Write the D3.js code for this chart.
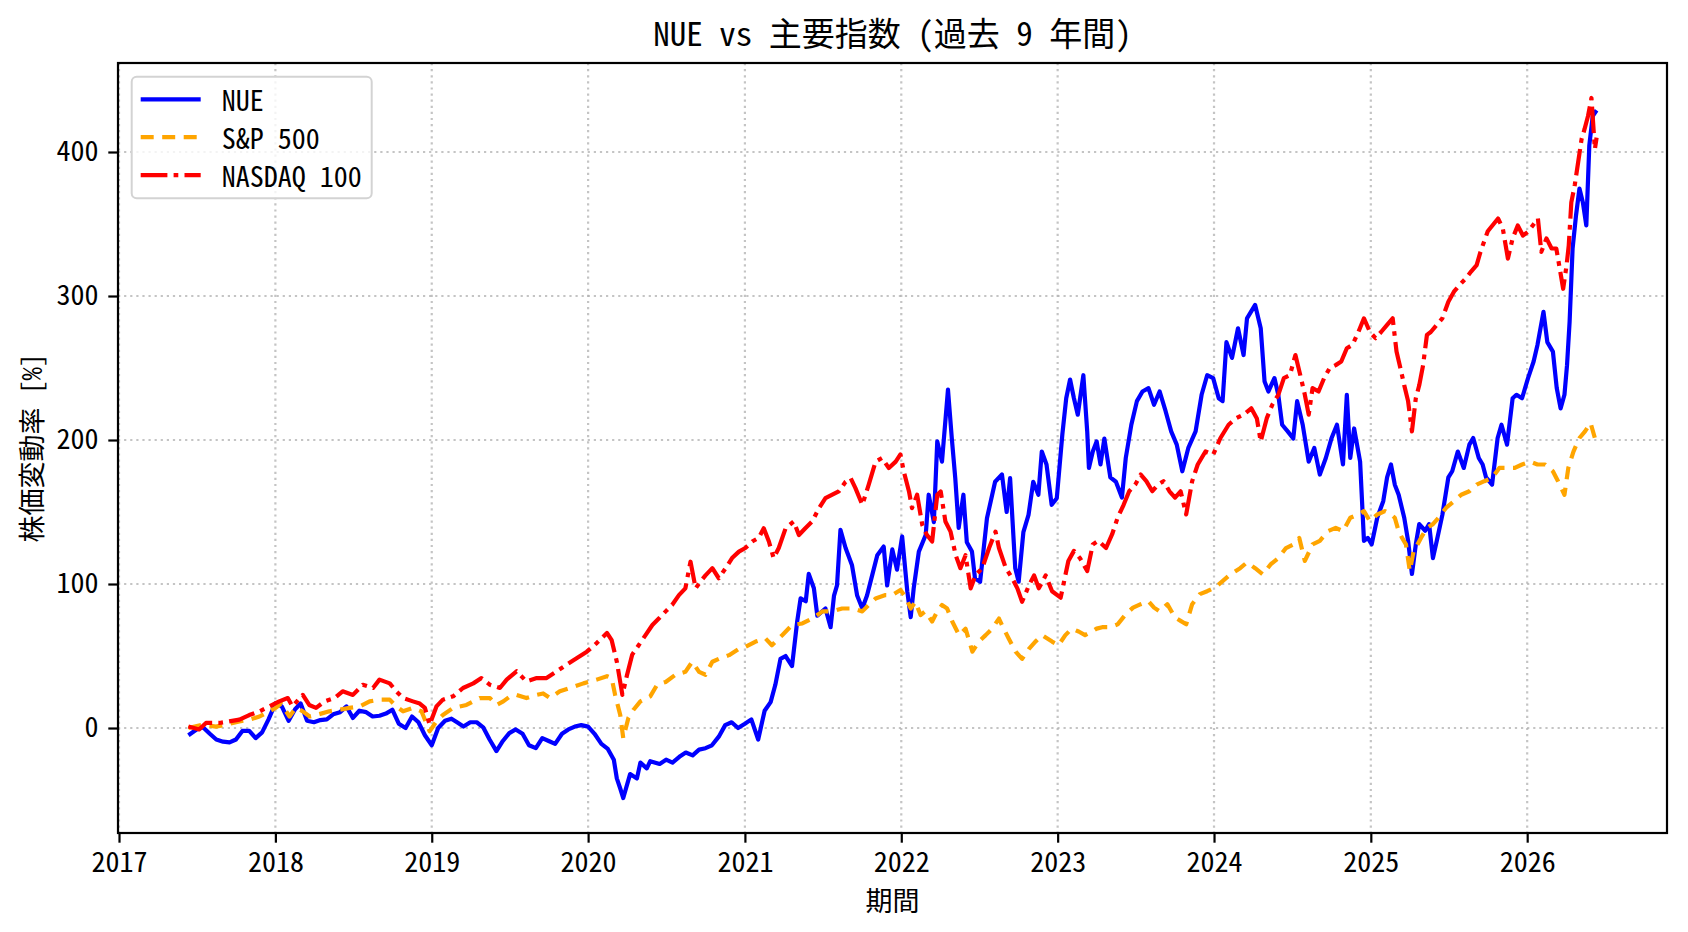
<!DOCTYPE html>
<meta charset="utf-8">
<html lang="ja">
  <head>
    <style>
      body { margin: 0; background-color: #fff; }
      text { font-family: "Noto Sans CJK JP", sans-serif; font-feature-settings: "hwid" 1; fill: #000; }
      .tick text { font-size: 28px; }
      .tick line { stroke: #000; stroke-width: 2.2px; }
      .grid line { stroke: #b0b0b0; stroke-opacity: 0.75; stroke-width: 2.2px; stroke-dasharray: 2.2,3.9; }
      .series { fill: none; stroke-width: 4.2px; stroke-linejoin: round; }
    </style>
  </head>
  <body>
    <svg id="chart"></svg>
    <script src="https://cdn.jsdelivr.net/npm/d3@7/dist/d3.min.js"></script>
    <script>

      // values, % change since start
      var nue = [
        ["2017-06-12",-5],["2017-07-01",-1],["2017-07-16",0.5],["2017-08-01",-4],["2017-08-16",-8],["2017-09-01",-9.5],["2017-09-16",-10],["2017-10-01",-8],["2017-10-16",-2],["2017-11-01",-2],["2017-11-16",-7],["2017-12-01",-3],["2017-12-16",6],
        ["2018-01-01",17],["2018-01-16",15],["2018-02-01",5],["2018-02-16",13],["2018-03-01",17],["2018-03-16",5],["2018-04-01",4],["2018-04-16",5.5],["2018-05-01",6],["2018-05-16",9.5],["2018-06-01",11],["2018-06-16",15],["2018-07-01",7],["2018-07-16",12],["2018-08-01",11],["2018-08-16",8],["2018-09-01",8.5],["2018-09-16",10],["2018-10-01",12.7],["2018-10-16",3],["2018-11-01",0],["2018-11-16",8],["2018-12-01",4],["2018-12-16",-5],
        ["2019-01-01",-12],["2019-01-16",0],["2019-02-01",5],["2019-02-16",6.5],["2019-03-01",4],["2019-03-16",1],["2019-04-01",4],["2019-04-16",4],["2019-05-01",0.5],["2019-05-16",-8],["2019-06-01",-16],["2019-06-16",-9],["2019-07-01",-3.5],["2019-07-16",-1],["2019-08-01",-4],["2019-08-16",-12],["2019-09-01",-14],["2019-09-16",-7],["2019-10-01",-9],["2019-10-16",-11],["2019-11-01",-4],["2019-11-16",-1],["2019-12-01",1],["2019-12-16",2],
        ["2020-01-01",1],["2020-01-16",-4],["2020-02-01",-11],["2020-02-16",-14.5],["2020-03-01",-22],["2020-03-08",-35],["2020-03-16",-42],["2020-03-23",-48.6],["2020-04-08",-32],["2020-04-24",-35],["2020-05-02",-24],["2020-05-17",-28],["2020-05-25",-23],["2020-06-16",-25],["2020-07-01",-22],["2020-07-16",-24],["2020-08-01",-20],["2020-08-16",-17],["2020-09-01",-19],["2020-09-16",-15],["2020-10-01",-14],["2020-10-16",-12],["2020-11-01",-6],["2020-11-16",2],["2020-12-01",4],["2020-12-16",0],
        ["2021-01-01",3],["2021-01-16",6],["2021-02-01",-8],["2021-02-16",12],["2021-03-02",18],["2021-03-13",30],["2021-03-25",48],["2021-04-06",50],["2021-04-21",43],["2021-05-03",74],["2021-05-11",90],["2021-05-23",88],["2021-05-30",107],["2021-06-11",97],["2021-06-19",78],["2021-07-08",83],["2021-07-20",70],["2021-07-28",92],["2021-08-04",99],["2021-08-12",137.6],["2021-08-24",125],["2021-09-08",113],["2021-09-20",92],["2021-10-02",83],["2021-10-13",92],["2021-10-25",106],["2021-11-06",120],["2021-11-21",126],["2021-11-29",99],["2021-12-11",124],["2021-12-22",110],
        ["2022-01-03",133],["2022-01-15",95],["2022-01-23",77],["2022-01-30",97],["2022-02-11",122.5],["2022-02-27",134],["2022-03-06",162],["2022-03-18",143],["2022-03-26",199],["2022-04-06",185],["2022-04-20",235],["2022-04-29",201],["2022-05-07",173.5],["2022-05-15",139],["2022-05-26",162],["2022-06-03",129],["2022-06-15",122.5],["2022-06-22",104],["2022-07-04",101.6],["2022-07-20",145.7],["2022-08-08",171],["2022-08-24",176],["2022-09-04",150],["2022-09-12",173.5],["2022-09-24",111],["2022-10-02",101.6],["2022-10-13",136],["2022-10-25",148],["2022-11-05",171],["2022-11-17",162],["2022-11-25",192],["2022-12-06",183],["2022-12-18",155],["2022-12-30",159.6],
        ["2023-01-12",204],["2023-01-21",229],["2023-01-30",242],["2023-02-08",229],["2023-02-17",217.6],["2023-03-02",245],["2023-03-11",206],["2023-03-15",180.6],["2023-03-24",192],["2023-04-02",199],["2023-04-11",183],["2023-04-20",201],["2023-05-04",174],["2023-05-17",171],["2023-05-31",160],["2023-06-09",187.5],["2023-06-22",210.6],["2023-07-05",227],["2023-07-18",233.7],["2023-08-01",236],["2023-08-14",224.5],["2023-08-27",233.7],["2023-09-10",220],["2023-09-23",206],["2023-10-06",196.8],["2023-10-19",178.3],["2023-11-02",194.5],["2023-11-19",206],["2023-12-03",231.4],["2023-12-16",245],["2023-12-30",243],
        ["2024-01-12",229],["2024-01-21",227],["2024-01-30",268],["2024-02-12",257],["2024-02-26",277.6],["2024-03-10",259],["2024-03-18",284.5],["2024-04-06",293.8],["2024-04-19",277.6],["2024-04-28",240.6],["2024-05-07",233.7],["2024-05-21",243],["2024-05-30",231.4],["2024-06-08",210.6],["2024-06-21",206],["2024-07-04",201],["2024-07-13",227],["2024-07-26",210.6],["2024-08-09",185],["2024-08-22",194.5],["2024-09-04",176],["2024-09-18",187.5],["2024-10-01",201],["2024-10-14",210.6],["2024-10-28",183],["2024-11-06",231.4],["2024-11-14",187.5],["2024-11-23",208],["2024-12-07",185],["2024-12-16",130],["2024-12-25",132],
        ["2025-01-03",127.5],["2025-01-16",146],["2025-01-30",157.5],["2025-02-08",174],["2025-02-17",183],["2025-02-26",169],["2025-03-07",162],["2025-03-20",146],["2025-03-29",130],["2025-04-07",107],["2025-04-16",127.5],["2025-04-24",141.6],["2025-05-08",137],["2025-05-17",141.6],["2025-05-26",118],["2025-06-04",130],["2025-06-17",148],["2025-07-01",174],["2025-07-10",178.3],["2025-07-23",192],["2025-08-06",180.6],["2025-08-19",196.8],["2025-08-28",201.4],["2025-09-10",187.5],["2025-09-19",183],["2025-09-27",174],["2025-10-11",169],["2025-10-24",201.4],["2025-11-02",210.6],["2025-11-15",196.8],["2025-11-28",229],["2025-12-07",231.4],["2025-12-20",229],
        ["2026-01-03",243],["2026-01-16",254.5],["2026-01-25",266],["2026-02-08",289],["2026-02-17",268],["2026-03-02",261.4],["2026-03-11",236],["2026-03-20",222],["2026-03-29",231.4],["2026-04-04",252],["2026-04-10",282],["2026-04-17",333],["2026-04-25",356],["2026-05-03",374.6],["2026-05-11",365],["2026-05-19",349],["2026-05-26",404.6],["2026-06-03",425],["2026-06-12",429]
      ];

      var sp500 = [
        ["2017-06-12",0],["2017-07-15",2.3],["2017-08-15",1],["2017-09-08",2.3],["2017-10-09",4.6],["2017-11-01",5.8],["2017-11-25",8],["2017-12-18",11.6],
        ["2018-01-01",13.9],["2018-01-14",17],["2018-02-03",8],["2018-02-18",14],["2018-03-06",11.6],["2018-03-22",8],["2018-04-06",9],["2018-05-07",11.6],["2018-05-31",12.7],["2018-06-23",14],["2018-07-17",15],["2018-08-09",18.5],["2018-09-01",19.7],["2018-09-25",19.7],["2018-10-10",15],["2018-10-26",11.6],["2018-11-18",14],["2018-12-08",11.6],["2018-12-27",-2.3],
        ["2019-01-12",4.6],["2019-01-27",9],["2019-02-20",14],["2019-03-23",16],["2019-04-23",20.8],["2019-05-17",20.8],["2019-06-01",16],["2019-06-17",18.5],["2019-07-03",22],["2019-07-18",23],["2019-08-10",20.8],["2019-09-03",23],["2019-09-18",24],["2019-10-04",20.8],["2019-10-27",25.5],["2019-11-20",27.8],["2019-12-21",31],
        ["2020-01-21",33.6],["2020-02-14",36],["2020-02-25",34.7],["2020-03-04",23],["2020-03-16",9],["2020-03-23",-7],["2020-04-04",7],["2020-04-16",12.7],["2020-05-02",18.5],["2020-05-17",20.8],["2020-05-25",22],["2020-06-10",30],["2020-06-30",32],["2020-07-23",37],["2020-08-15",39],["2020-08-31",46],["2020-09-16",39],["2020-10-01",37],["2020-10-17",46],["2020-11-01",48],["2020-11-25",50.6],["2020-12-18",55],
        ["2021-01-02",56.4],["2021-01-26",60],["2021-02-18",62.2],["2021-03-05",57.5],["2021-03-29",64.5],["2021-04-21",71.5],["2021-05-15",72.6],["2021-06-07",76],["2021-07-01",81],["2021-07-24",81],["2021-08-16",83],["2021-09-09",83],["2021-10-02",81],["2021-10-17",85.4],["2021-11-02",90],["2021-11-25",92.3],["2021-12-11",92.3],["2021-12-30",95.8],
        ["2022-01-11",91],["2022-01-23",83],["2022-02-03",87.7],["2022-02-15",78.4],["2022-02-26",81],["2022-03-14",74],["2022-03-26",81],["2022-04-06",85.4],["2022-04-18",83],["2022-04-30",74],["2022-05-16",64.5],["2022-05-31",69],["2022-06-16",53],["2022-07-01",60],["2022-07-17",64.5],["2022-08-01",69],["2022-08-17",76],["2022-08-28",69],["2022-09-09",62],["2022-09-25",53],["2022-10-10",48],["2022-10-26",55],["2022-11-10",60],["2022-11-26",64.5],["2022-12-19",60],
        ["2023-01-03",57.5],["2023-01-19",64.5],["2023-02-03",69],["2023-02-19",67],["2023-03-06",64.5],["2023-03-22",67],["2023-04-02",69],["2023-04-15",70],["2023-05-04",70],["2023-05-21",72],["2023-06-09",79],["2023-06-26",83.6],["2023-07-14",86],["2023-08-01",88],["2023-08-14",83.6],["2023-08-27",81],["2023-09-14",86],["2023-10-02",76.7],["2023-10-15",74.4],["2023-10-28",72],["2023-11-11",86],["2023-11-29",93],["2023-12-16",95],
        ["2024-01-03",97.5],["2024-01-21",102],["2024-02-08",106.7],["2024-03-02",111],["2024-03-18",115],["2024-04-06",111],["2024-04-24",106.7],["2024-05-12",113.6],["2024-05-30",118],["2024-06-17",125],["2024-07-04",127.5],["2024-07-18",132],["2024-07-31",116],["2024-08-18",127.5],["2024-09-04",130],["2024-09-23",136.7],["2024-10-11",139],["2024-10-28",136.7],["2024-11-14",146],["2024-12-03",148.3],["2024-12-16",150.6],["2024-12-30",143.6],
        ["2025-01-16",148.3],["2025-02-03",150.6],["2025-02-17",148.3],["2025-02-26",146],["2025-03-07",136.7],["2025-03-15",132],["2025-03-24",127.5],["2025-04-02",109],["2025-04-11",123],["2025-04-20",127.5],["2025-04-28",132],["2025-05-12",139],["2025-05-26",141.6],["2025-06-08",146],["2025-06-26",153],["2025-07-14",157.5],["2025-07-31",162],["2025-08-19",164.4],["2025-09-05",169],["2025-09-23",171.4],["2025-10-11",173.6],["2025-10-28",180.6],["2025-11-15",180.6],["2025-12-03",180.6],["2025-12-20",183],
        ["2026-01-08",185],["2026-01-25",183],["2026-02-12",183],["2026-03-02",178.3],["2026-03-14",171.4],["2026-03-29",162],["2026-04-07",180.6],["2026-04-19",192],["2026-05-03",201.4],["2026-05-16",206],["2026-05-29",211.8],["2026-06-08",201.4],["2026-06-12",200]
      ];

      var nasdaq100 = [
        ["2017-06-12",1],["2017-07-07",-1],["2017-07-23",3.5],["2017-08-23",3.5],["2017-09-15",4.6],["2017-10-09",5.8],["2017-11-01",9],["2017-11-25",11.6],["2017-12-18",15],
        ["2018-01-10",18.5],["2018-01-30",20.8],["2018-02-10",15],["2018-03-06",23],["2018-03-21",16],["2018-04-06",14],["2018-04-26",18.5],["2018-05-19",20.8],["2018-06-07",25.5],["2018-07-01",23],["2018-07-24",30],["2018-08-17",27.8],["2018-09-01",33.6],["2018-09-25",31],["2018-10-10",25.5],["2018-10-26",20.8],["2018-11-18",18.5],["2018-12-04",17],["2018-12-16",14],["2018-12-27",2.3],
        ["2019-01-12",15],["2019-01-27",19.7],["2019-02-20",22],["2019-03-15",27.8],["2019-04-08",31],["2019-04-27",34.7],["2019-05-17",30],["2019-06-09",27.8],["2019-06-25",33.6],["2019-07-18",39.4],["2019-08-10",32.4],["2019-09-03",34.7],["2019-09-26",34.7],["2019-10-20",39.4],["2019-11-12",44],["2019-12-06",48.6],["2019-12-29",53],
        ["2020-01-21",59],["2020-02-14",66],["2020-02-25",61],["2020-03-08",46],["2020-03-21",23],["2020-04-01",37],["2020-04-13",51],["2020-04-28",57.5],["2020-05-14",64.5],["2020-05-30",71.5],["2020-06-14",76],["2020-06-30",81],["2020-07-15",85.4],["2020-07-31",92.3],["2020-08-15",97],["2020-08-27",115.5],["2020-09-08",97],["2020-09-19",101.6],["2020-10-01",106],["2020-10-17",111],["2020-11-01",104],["2020-11-17",111],["2020-12-02",118],["2020-12-18",122.5],
        ["2021-01-02",125],["2021-01-18",129.5],["2021-02-02",132],["2021-02-14",138.7],["2021-02-26",129.5],["2021-03-09",118],["2021-03-21",125],["2021-04-06",138.7],["2021-04-25",143.4],["2021-05-07",134],["2021-05-22",138.7],["2021-06-07",143.4],["2021-06-23",152.7],["2021-07-08",159.6],["2021-07-24",162],["2021-08-08",164.3],["2021-08-24",171],["2021-09-05",173.5],["2021-09-16",166.6],["2021-10-02",155],["2021-10-17",169],["2021-11-02",185],["2021-11-17",187.5],["2021-12-03",180.5],["2021-12-19",185],["2021-12-30",190],
        ["2022-01-07",178],["2022-01-19",164.3],["2022-01-26",152.7],["2022-02-07",162],["2022-02-19",141],["2022-03-02",134],["2022-03-14",129.5],["2022-03-26",162],["2022-04-03",164.3],["2022-04-14",143.4],["2022-04-26",136.4],["2022-05-08",120],["2022-05-19",111],["2022-05-31",120],["2022-06-12",97],["2022-06-23",106],["2022-07-09",111],["2022-07-25",125],["2022-08-09",136.4],["2022-08-17",125],["2022-09-02",111],["2022-09-17",104],["2022-09-29",97],["2022-10-10",87.7],["2022-10-26",99],["2022-11-07",106],["2022-11-18",97],["2022-12-04",106],["2022-12-19",95],
        ["2023-01-08",90.5],["2023-01-26",116],["2023-02-08",123],["2023-02-22",118],["2023-03-11",109],["2023-03-24",127.5],["2023-04-06",130],["2023-04-24",125],["2023-05-08",134.4],["2023-05-21",146],["2023-06-04",155],["2023-06-17",164.4],["2023-07-01",169],["2023-07-14",176],["2023-07-27",171.4],["2023-08-10",164.4],["2023-08-23",169],["2023-09-05",171.4],["2023-09-19",164.4],["2023-10-02",160],["2023-10-15",164.4],["2023-10-28",148.3],["2023-11-11",171.4],["2023-11-24",183],["2023-12-12",192],["2023-12-30",189.8],
        ["2024-01-16",201.4],["2024-02-04",210.6],["2024-02-21",215],["2024-03-10",217.6],["2024-03-28",222],["2024-04-10",215],["2024-04-19",199],["2024-05-03",215],["2024-05-16",224.5],["2024-05-30",231.4],["2024-06-12",243],["2024-06-26",245],["2024-07-09",259],["2024-07-22",243],["2024-07-31",231.4],["2024-08-09",217.6],["2024-08-18",236],["2024-09-01",233.7],["2024-09-14",243],["2024-09-27",250],["2024-10-11",252],["2024-10-24",254.5],["2024-11-06",263.7],["2024-11-19",266],["2024-12-03",275],["2024-12-16",284.5],["2024-12-30",275],
        ["2025-01-12",270.7],["2025-01-25",275],["2025-02-08",280],["2025-02-21",284.5],["2025-03-02",261.4],["2025-03-11",250],["2025-03-20",238],["2025-03-29",227],["2025-04-07",206],["2025-04-16",229],["2025-04-24",238],["2025-05-03",252],["2025-05-12",273],["2025-05-21",275],["2025-06-04",280],["2025-06-17",284.5],["2025-07-01",296],["2025-07-14",303],["2025-07-27",307.6],["2025-08-10",312],["2025-08-23",317],["2025-09-05",321.5],["2025-09-14",330.7],["2025-10-01",345],["2025-10-25",353.8],["2025-11-05",347],["2025-11-17",326],["2025-11-28",340],["2025-12-10",349],["2025-12-22",342],
        ["2026-01-03",344.6],["2026-01-14",349],["2026-01-26",353.8],["2026-02-03",330.7],["2026-02-15",340],["2026-02-27",333],["2026-03-10",333],["2026-03-18",319],["2026-03-26",305],["2026-04-03",321.5],["2026-04-08",335],["2026-04-14",365],["2026-04-22",377],["2026-04-30",393],["2026-05-08",409],["2026-05-15",416],["2026-05-23",425],["2026-05-31",437.5],["2026-06-08",402],["2026-06-12",410]
      ];

      var seriesNames = ["NUE", "S&P 500", "NASDAQ 100"];
      var seriesColors = ["#0000ff", "#ffa500", "#ff0000"];
      var seriesDashes = [null, "13,8.5", "26.7,6.2,4.7,6.2"];
      var yTicks = [0, 100, 200, 300, 400];

      var width = 1688, height = 932;
      var margin = {top: 63, right: 21, bottom: 99, left: 118};

      var svg = d3.select("#chart")
        .attr("width", width)
        .attr("height", height);

      var parse = d3.utcParse("%Y-%m-%d");
      var allSeries = [nue, sp500, nasdaq100].map(function(s) {
        return s.map(function(d) { return {date: parse(d[0]), value: d[1]}; });
      });
      var flat = d3.merge(allSeries);

      // matplotlib style 5% margins
      var xExt = d3.extent(flat, function(d) { return d.date; }),
          yExt = d3.extent(flat, function(d) { return d.value; });
      var xPad = (xExt[1] - xExt[0]) * 0.05,
          yPad = (yExt[1] - yExt[0]) * 0.05;

      var x = d3.scaleUtc()
        .domain([new Date(+xExt[0] - xPad), new Date(+xExt[1] + xPad)])
        .range([margin.left, width - margin.right]);

      var y = d3.scaleLinear()
        .domain([yExt[0] - yPad, yExt[1] + yPad])
        .range([height - margin.bottom, margin.top]);

      var plotW = width - margin.left - margin.right,
          plotH = height - margin.top - margin.bottom;

      var yearTicks = x.ticks(d3.utcYear.every(1));

      svg.append("defs").append("clipPath").attr("id", "clip")
        .append("rect")
        .attr("x", margin.left).attr("y", margin.top)
        .attr("width", plotW).attr("height", plotH);

      // grid
      var grid = svg.append("g").attr("class", "grid");
      grid.selectAll(".vg")
        .data(yearTicks)
        .enter().append("line")
        .attr("x1", function(d) { return x(d); })
        .attr("x2", function(d) { return x(d); })
        .attr("y1", margin.top)
        .attr("y2", height - margin.bottom);
      grid.selectAll(".hg")
        .data(yTicks)
        .enter().append("line")
        .attr("x1", margin.left)
        .attr("x2", width - margin.right)
        .attr("y1", function(d) { return y(d); })
        .attr("y2", function(d) { return y(d); });

      // lines
      var line = d3.line()
        .x(function(d) { return x(d.date); })
        .y(function(d) { return y(d.value); });

      svg.append("g")
        .attr("clip-path", "url(#clip)")
        .selectAll(".series")
        .data(allSeries)
        .enter().append("path")
        .attr("class", "series")
        .attr("d", line)
        .style("stroke", function(d, i) { return seriesColors[i]; })
        .style("stroke-dasharray", function(d, i) { return seriesDashes[i]; });

      // axes
      var xAxis = svg.append("g")
        .attr("transform", "translate(0," + (height - margin.bottom) + ")")
        .call(d3.axisBottom(x).tickValues(yearTicks).tickFormat(d3.utcFormat("%Y"))
          .tickSize(9.7).tickPadding(9.7).tickSizeOuter(0));
      xAxis.select(".domain").remove();

      var yAxis = svg.append("g")
        .attr("transform", "translate(" + margin.left + ",0)")
        .call(d3.axisLeft(y).tickValues(yTicks).tickSize(9.7).tickPadding(9.7).tickSizeOuter(0));
      yAxis.select(".domain").remove();

      svg.append("rect")
        .attr("x", margin.left).attr("y", margin.top)
        .attr("width", plotW).attr("height", plotH)
        .style("fill", "none")
        .style("stroke", "#000")
        .style("stroke-width", 2.2);

      // labels
      svg.append("text")
        .attr("x", margin.left + plotW / 2)
        .attr("y", 46)
        .attr("text-anchor", "middle")
        .style("font-size", "33px")
        .text("NUE vs 主要指数 (過去 9 年間)");

      svg.append("text")
        .attr("x", margin.left + plotW / 2)
        .attr("y", 899)
        .attr("text-anchor", "middle")
        .attr("dominant-baseline", "central")
        .style("font-size", "27px")
        .text("期間");

      svg.append("text")
        .attr("transform", "translate(30," + (margin.top + plotH / 2) + ") rotate(-90)")
        .attr("text-anchor", "middle")
        .attr("dominant-baseline", "central")
        .style("font-size", "27px")
        .text("株価変動率 [%]");

      // legend
      var legend = svg.append("g");
      legend.append("rect")
        .attr("x", 131.7).attr("y", 76.7)
        .attr("width", 240).attr("height", 121.6)
        .attr("rx", 5)
        .style("fill", "#fff")
        .style("fill-opacity", 0.8)
        .style("stroke", "#d3d3d3")
        .style("stroke-width", 2);

      var rows = legend.selectAll(".row")
        .data(seriesNames)
        .enter().append("g")
        .attr("transform", function(d, i) { return "translate(0," + (99.3 + i * 37.9) + ")"; });

      rows.append("line")
        .attr("x1", 140.7).attr("x2", 200.7)
        .style("stroke", function(d, i) { return seriesColors[i]; })
        .style("stroke-width", 4.2)
        .style("stroke-dasharray", function(d, i) { return seriesDashes[i]; });

      rows.append("text")
        .attr("x", 221.7)
        .attr("dominant-baseline", "central")
        .style("font-size", "28px")
        .text(function(d) { return d; });

    </script>
  </body>
</html>
